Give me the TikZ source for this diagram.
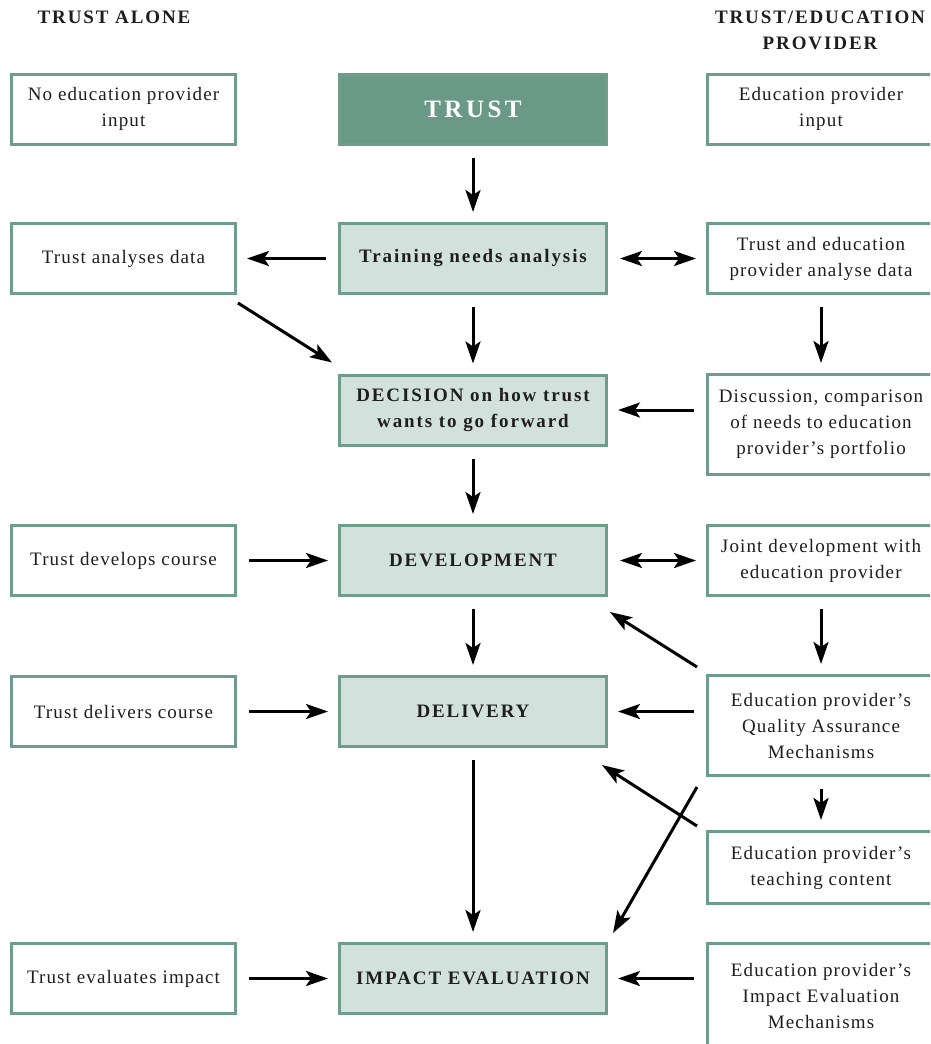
\documentclass[tikz,border=0pt]{standalone}
\usepackage{fontspec}
\setmainfont[LetterSpace=6]{Liberation Serif}
\newfontfamily\wide[LetterSpace=10]{Liberation Serif}
\newfontfamily\widest[LetterSpace=14]{Liberation Serif}
\usepackage{xcolor}
\usepackage{tikz}
\usetikzlibrary{arrows.meta,positioning}
\definecolor{trustgreen}{HTML}{6A9A87}
\definecolor{palegreen}{HTML}{D3E1DC}
\definecolor{rimgreen}{HTML}{6E9E8B}
\definecolor{ink}{HTML}{1E1E1E}

\begin{document}
\begin{tikzpicture}[x=1pt, y=-1pt, ->,
        line/.style = {draw = black, line width = 3pt,
            >={Stealth[length=22pt,width=15pt,inset=5pt]},
            shorten <=12pt, shorten >=10pt},
        free/.style = {shorten <=0pt, shorten >=0pt},
        side/.style = {draw = rimgreen, line width = 3pt, fill = white,
            text = ink, align = center, inner sep = 0pt,
            minimum width = 224pt, minimum height = 70pt,
            font = \fontsize{19}{26}\selectfont},
        mid/.style = {draw = rimgreen, line width = 3pt, fill = palegreen,
            text = ink, align = center, inner sep = 0pt,
            minimum width = 267pt, minimum height = 70pt,
            font = \wide\bfseries\fontsize{19}{26}\selectfont},
        head/.style = {text = ink, align = center,
            font = \wide\bfseries\fontsize{19}{26}\selectfont}]
    \clip (0,0) rectangle (930,1044);

    \path node[head] (headl) at (114,17) {TRUST ALONE};
    \path node[head] (headr) at (820,30) {TRUST/EDUCATION\\PROVIDER};

    \path node[mid, fill = trustgreen, text = white,
        font = \widest\bfseries\fontsize{25}{28}\selectfont] (trust) at (473,109) {TRUST};
    \foreach \name/\y/\txt in {tna/258.5/Training needs analysis,
            dec/410/{DECISION on how trust\\wants to go forward},
            dev/560.5/DEVELOPMENT, del/711.5/DELIVERY,
            imp/978.5/IMPACT EVALUATION}
        \path node[mid] (\name) at (473,\y) {\txt};

    \foreach \name/\y/\txt in {l1/109/{No education provider\\input},
            l2/258.5/Trust analyses data, l3/560.5/Trust develops course,
            l4/711.5/Trust delivers course, l5/978.5/Trust evaluates impact}
        \path node[side] (\name) at (123.5,\y) {\txt};

    \foreach \name/\y/\h/\txt in {r1/109/70/{Education provider\\input},
            r2/258.5/70/{Trust and education\\provider analyse data},
            r3/424.5/100/{Discussion, comparison\\of needs to education\\provider’s portfolio},
            r4/560.5/70/{Joint development with\\education provider},
            r5/725.5/100/{Education provider’s\\Quality Assurance\\Mechanisms},
            r6/867.5/72/{Education provider’s\\teaching content},
            r7/995.5/104/{Education provider’s\\Impact Evaluation\\Mechanisms}}
        \path node[side, minimum width = 227pt, minimum height = \h pt] (\name) at (821,\y) {\txt};

    \foreach \a/\b in {trust/tna, tna/dec, dec/dev, dev/del, del/imp,
            r2/r3, r4/r5, r5/r6, tna/l2, l3/dev, l4/del, l5/imp}
        \path[line] (\a) -- (\b);
    \path[line, <->] (tna) -- (r2);
    \path[line, <->] (dev) -- (r4);
    \path[line] (r3.west |- dec) -- (dec);
    \path[line] (r5.west |- del) -- (del);
    \path[line] (r7.west |- imp) -- (imp);
    \path[line, free] ([shift={(1,8)}]l2.south east) -- ([shift={(-6,-11)}]dec.north west);
    \path[line, free] ([shift={(-9,-7)}]r5.north west) -- ([shift={(2,15)}]dev.south east);
    \path[line, free] ([shift={(-9,-4)}]r6.north west) -- ([shift={(-6,17)}]del.south east);
    \path[line, free] ([shift={(-9,10)}]r5.south west) -- ([shift={(5,-9)}]imp.north east);
\end{tikzpicture}
\end{document}
